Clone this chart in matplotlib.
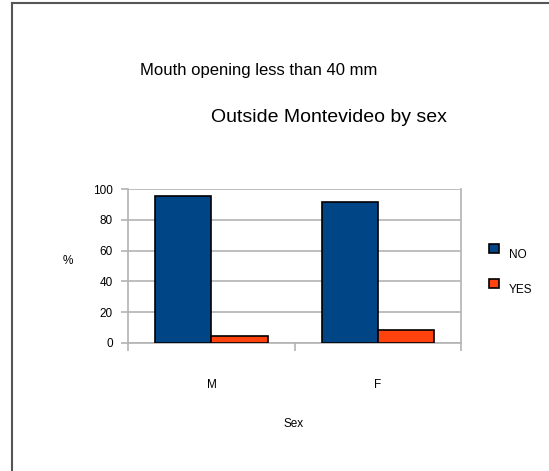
import matplotlib
matplotlib.use("Agg")
import matplotlib.pyplot as plt
import numpy as np
from matplotlib.lines import Line2D
from matplotlib.patches import Rectangle

plt.rcParams['font.family'] = ['Liberation Sans', 'DejaVu Sans']

categories = ['M', 'F']
no_values = [95.5, 92.0]
yes_values = [4.5, 8.0]
series_names = ['NO', 'YES']
colors = ['#004586', '#ff420e']

W, H = 549, 471
fig = plt.figure(figsize=(W / 100, H / 100), dpi=100)
ax = fig.add_axes([0.2337, 0.2724, 0.6060, 0.3257])

x = np.arange(len(categories))
w = 0.337
ax.bar(x - w / 2, no_values, w, color=colors[0], edgecolor='black', linewidth=1.2, zorder=3)
ax.bar(x + w / 2, yes_values, w, color=colors[1], edgecolor='black', linewidth=1.2, zorder=3)

ax.set_xlim(-0.5, 1.5)
ax.set_ylim(0, 100)
ax.set_yticks(range(0, 101, 20))
ax.yaxis.grid(True, color='#b3b3b3', linewidth=1.2, zorder=0)

# category ticks sit between groups, labels in the middle
ax.set_xticks([-0.5, 0.5, 1.5])
ax.set_xticklabels([])
ax.set_xticks(x, minor=True)
ax.set_xticklabels(categories, minor=True, fontsize=8.5)
ax.tick_params(axis='x', which='minor', length=0, pad=26)
ax.tick_params(axis='x', which='major', length=6, width=1.2, color='#b3b3b3', direction='out')
ax.tick_params(axis='y', length=5, width=1.2, color='#b3b3b3', labelsize=8.5, pad=6)

for s in ['top', 'bottom']:
    ax.spines[s].set_visible(False)
for s in ['left', 'right']:
    ax.spines[s].set_color('#b3b3b3')
    ax.spines[s].set_linewidth(1.2)
ax.axhline(0, color='#b3b3b3', linewidth=1.2, zorder=2, clip_on=False)

fig.text(259 / W, 1 - 70 / H, 'Mouth opening less than 40 mm', ha='center', va='center', fontsize=12)
fig.text(329 / W, 1 - 117 / H, 'Outside Montevideo by sex', ha='center', va='center', fontsize=14)
fig.text(68 / W, 1 - 261 / H, '%', ha='center', va='center', fontsize=8.5)
fig.text(294 / W, 1 - 424 / H, 'Sex', ha='center', va='center', fontsize=8.5)

# legend: small squares with the labels set a little lower, like the original
for i, (name, c) in enumerate(zip(series_names, colors)):
    cy = 248.5 + i * 34.5
    fig.add_artist(Rectangle((489 / W, 1 - (cy + 4.5) / H), 10 / W, 9 / H,
                             facecolor=c, edgecolor='black', linewidth=1.2,
                             transform=fig.transFigure))
    fig.text(509 / W, 1 - (cy + 7) / H, name, ha='left', va='center', fontsize=8.5)

# outer frame (only top and left edges show)
fig.add_artist(Line2D([0.022, 1.0], [0.994, 0.994], color='#555555', linewidth=1.5))
fig.add_artist(Line2D([0.022, 0.022], [0.0, 0.994], color='#555555', linewidth=1.5))

fig.savefig('out.png', dpi=100)
